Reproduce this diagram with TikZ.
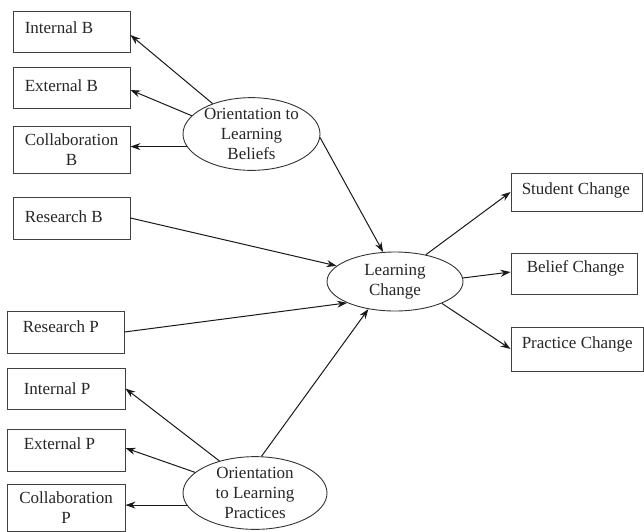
\documentclass[tikz,border=0pt]{standalone}
\usepackage{fontspec}
\setmainfont{Liberation Serif}
\usetikzlibrary{shapes.geometric,arrows.meta,calc}
\begin{document}
\begin{tikzpicture}[x=1pt,y=-1pt,
  every node/.style={font=\fontsize{17}{20}\selectfont, text=black!85},
  rbox/.style={draw=black!75, line width=0.9pt, inner sep=0pt},
  lbl/.style={anchor=west, inner sep=0pt},
  oval/.style={draw=black!80, line width=0.9pt, ellipse, inner sep=0pt, align=center},
  arr/.style={draw=black!90, line width=1pt, -{Stealth[length=10pt,width=7pt]}}
]
\useasboundingbox (0,0) rectangle (644,531);

% left boxes (beliefs)
\node[rbox, minimum width=117pt, minimum height=41pt] (ib) at (71.5,31.5) {};
\node[lbl] (ibt) at ($(ib.west)+(12,-3.5)$) {Internal B};
\node[rbox, minimum width=117pt, minimum height=41pt] (eb) at (71.5,87.5) {};
\node[lbl] (ebt) at ($(eb.west)+(12,-1.5)$) {External B};
\node[rbox, minimum width=117pt, minimum height=47pt, align=center] (cb) at (71.5,149.5) {Collaboration\\B};
\node[rbox, minimum width=117pt, minimum height=42pt] (rb) at (71.5,218) {};
\node[lbl] (rbt) at ($(rb.west)+(12,-1)$) {Research B};

% left boxes (practices)
\node[rbox, minimum width=117pt, minimum height=42pt] (rp) at (65.5,332) {};
\node[lbl] (rpt) at ($(rp.west)+(16,-5)$) {Research P};
\node[rbox, minimum width=118pt, minimum height=41pt] (ip) at (66,388.5) {};
\node[lbl] (ipt) at ($(ip.west)+(17,0)$) {Internal P};
\node[rbox, minimum width=118pt, minimum height=42pt] (ep) at (66,450) {};
\node[lbl] (ept) at ($(ep.west)+(17,-6)$) {External P};
\node[rbox, minimum width=118pt, minimum height=47pt, align=center] (cp) at (66,507.5) {Collaboration\\P};

% right boxes
\node[rbox, minimum width=131pt, minimum height=38pt] (sc) at (576.5,192) {};
\node[lbl] (sct) at ($(sc.west)+(11,-2)$) {Student Change};
\node[rbox, minimum width=126pt, minimum height=41pt] (bc) at (574,273.5) {};
\node[lbl] (bct) at ($(bc.west)+(16,-5.5)$) {Belief Change};
\node[rbox, minimum width=132pt, minimum height=44pt] (pc) at (577,349) {};
\node[lbl] (pct) at ($(pc.west)+(11,-5)$) {Practice Change};

% ellipses
\node[oval, minimum width=137pt, minimum height=66pt] (ob) at (251.5,134) {Orientation to\\Learning\\Beliefs};
\node[oval, minimum width=136pt, minimum height=59pt] (lc) at (395,281.5) {Learning\\Change};
\node[oval, minimum width=144pt, minimum height=70pt] (op) at (255,493) {Orientation\\to Learning\\Practices};

% arrows
\draw[arr] (ob.142.4) -- ($(ib.east)+(0,3.5)$);
\draw[arr] (ob.163.3) -- ($(eb.east)+(0,2.5)$);
\draw[arr] (ob.191.6) -- (ob.191.6 -| cb.east);
\draw[arr] (ob.357.6) -- (lc.112.1);
\draw[arr] (rb.east) -- (lc.165.3);
\draw[arr] (rp.east) -- (lc.204.1);
\draw[arr] (op.80) -- (lc.226.4);
\draw[arr] (lc.41.7) -- (sc.west);
\draw[arr] (lc.3.8) -- ($(bc.west)+(0,-1.5)$);
\draw[arr] (lc.335.4) -- (pc.west);
\draw[arr] (op.138) -- (ip.east);
\draw[arr] (op.161.1) -- ($(ep.east)+(0,-2)$);
\draw[arr] (op.190.1) -- (op.190.1 -| cp.east);
\end{tikzpicture}
\end{document}
